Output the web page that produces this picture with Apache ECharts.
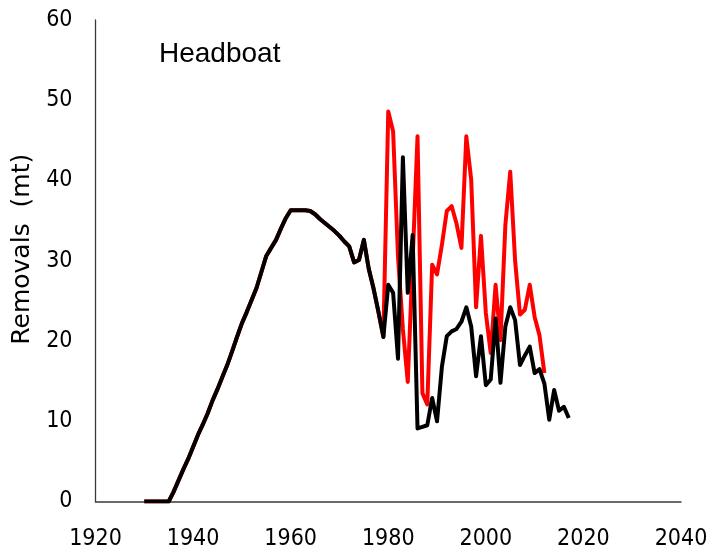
<!DOCTYPE html>
<html>
<head>
<meta charset="utf-8">
<script src="https://cdn.jsdelivr.net/npm/echarts@6/dist/echarts.min.js"></script>
<style>
html,body{margin:0;padding:0;background:#fff;overflow:hidden;}
#chart{width:706px;height:553px;}
</style>
</head>
<body>
<div id="chart"></div>
<script>
// Headboat removals (mt)
const blackYears = [1930,1931,1932,1933,1934,1935,1936,1937,1938,1939,
  1940,1941,1942,1943,1944,1945,1946,1947,1948,1949,
  1950,1951,1952,1953,1954,1955,1956,1957,1958,1959,
  1960,1961,1962,1963,1964,1965,1966,1967,1968,1969,
  1970,1971,1972,1973,1974,1975,1976,1977,1978,1979,
  1980,1981,1982,1983,1984,1985,1986,1987,1988,1989,
  1990,1991,1992,1993,1994,1995,1996,1997,1998,1999,
  2000,2001,2002,2003,2004,2005,2006,2007,2008,2009,
  2010,2011,2012,2013,2014,2015,2016,2017];
const blackValues = [0,0,0,0,0,0,1.2,2.6,4.0,5.3,
  6.8,8.3,9.6,11.0,12.6,14.0,15.5,17.0,18.7,20.5,
  22.2,23.6,25.1,26.6,28.6,30.6,31.6,32.6,34.0,35.3,
  36.3,36.3,36.3,36.3,36.2,35.8,35.2,34.7,34.2,33.7,
  33.1,32.4,31.8,29.8,30.1,32.6,29.0,26.5,23.6,20.5,
  27.0,26.0,17.8,42.9,26.0,33.2,9.1,9.3,9.5,12.9,
  10.0,16.8,20.6,21.2,21.5,22.4,24.2,21.8,15.6,20.6,
  14.5,15.2,22.8,14.8,21.8,24.2,22.6,17.0,18.2,19.3,
  16.0,16.5,14.7,10.2,13.9,11.3,11.8,10.4];
// red series shares the black history through 1979, then diverges
const redSharedUntil = 1979;
const redYears = [1980,1981,1982,1983,1984,1985,1986,1987,1988,1989,
  1990,1991,1992,1993,1994,1995,1996,1997,1998,1999,
  2000,2001,2002,2003,2004,2005,2006,2007,2008,2009,
  2010,2011,2012];
const redValues = [48.6,46.1,30.5,21.5,14.9,30.0,45.5,13.5,12.1,29.5,
  28.3,32.0,36.2,36.8,34.6,31.6,45.5,40.1,24.2,33.1,
  23.5,18.5,27.0,20.1,34.4,41.1,30.0,23.3,23.9,27.0,
  23.0,20.7,16.0];
const xTicks = [1920,1940,1960,1980,2000,2020,2040];
const yTicks = [0,10,20,30,40,50,60];

const blackData = blackYears.map((y,i)=>[y, blackValues[i]]);
const redData = blackYears.filter(y=>y<=redSharedUntil).map((y,i)=>[y, blackValues[i]])
  .concat(redYears.map((y,i)=>[y, redValues[i]]));

const tickFont = "'Liberation Sans Narrow','DejaVu Sans Condensed','Arial Narrow',sans-serif";
const chart = echarts.init(document.getElementById('chart'), null, {renderer:'canvas'});
chart.setOption({
  animation:false,
  backgroundColor:'#ffffff',
  title:{
    text:'Headboat', left:159, top:40, padding:0,
    textStyle:{fontFamily:"'Liberation Sans',Arial,sans-serif", fontSize:28, fontWeight:'normal', color:'#000'}
  },
  grid:{left:95.5, right:25, top:20, bottom:51.5, containLabel:false, outerBoundsMode:'none'},
  xAxis:{
    type:'value', min:xTicks[0], max:xTicks[xTicks.length-1], interval:20,
    axisLine:{show:true, onZero:false, lineStyle:{color:'#3a3a3a', width:1.5}},
    axisTick:{show:false},
    splitLine:{show:false},
    axisLabel:{margin:26, color:'#000', fontSize:23, fontFamily:tickFont, formatter:v=>String(v), hideOverlap:false}
  },
  yAxis:{
    type:'value', min:yTicks[0], max:yTicks[yTicks.length-1], interval:10,
    name:'Removals  (mt)', nameLocation:'middle', nameGap:51,
    nameTextStyle:{fontFamily:"'DejaVu Sans',sans-serif", fontSize:25, color:'#000', padding:[0,0,0,23]},
    axisLine:{show:true, lineStyle:{color:'#3a3a3a', width:1.3}},
    axisTick:{show:false},
    splitLine:{show:false},
    axisLabel:{margin:23, color:'#000', fontSize:23, fontFamily:tickFont}
  },
  series:[
    {type:'line', data:redData, showSymbol:false, symbol:'none',
     lineStyle:{color:'#ff0000', width:4, join:'round'}, z:2},
    {type:'line', data:blackData, showSymbol:false, symbol:'none',
     lineStyle:{color:'#000000', width:4, join:'round'}, z:3}
  ]
});
</script>
</body>
</html>
